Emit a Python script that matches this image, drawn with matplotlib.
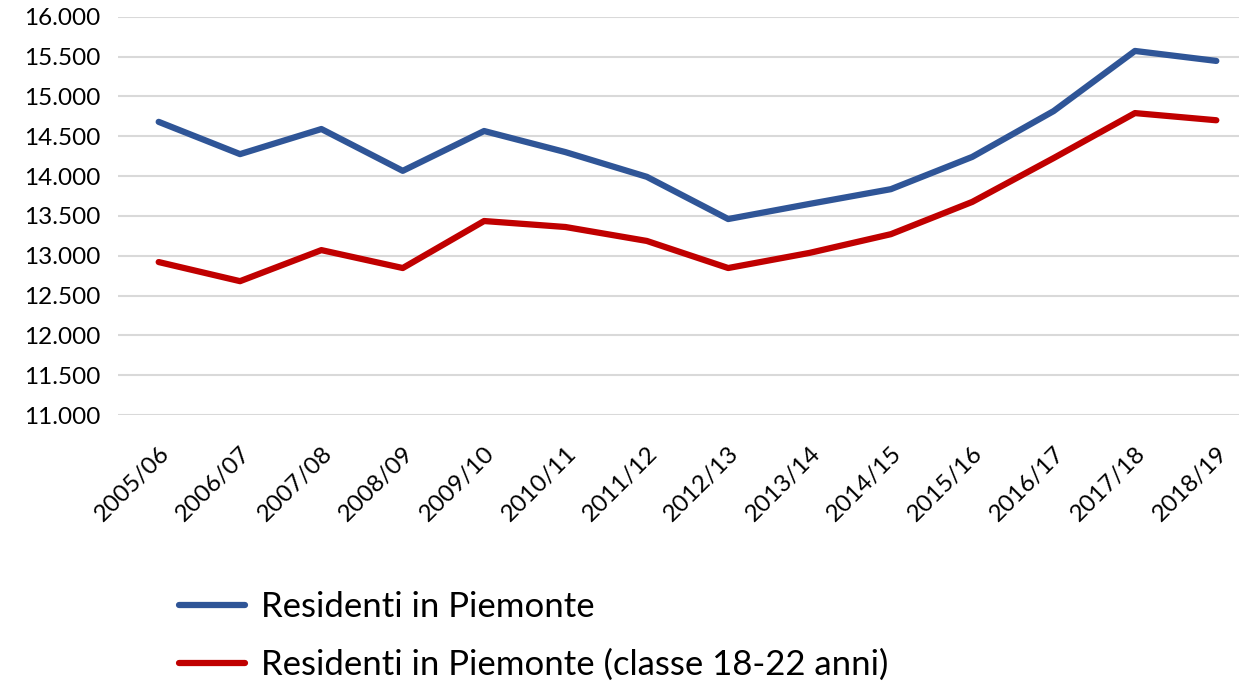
import matplotlib.pyplot as plt
from matplotlib.ticker import FuncFormatter

# anni accademici e residenti
anni = ["2005/06", "2006/07", "2007/08", "2008/09", "2009/10", "2010/11", "2011/12",
        "2012/13", "2013/14", "2014/15", "2015/16", "2016/17", "2017/18", "2018/19"]
residenti = [14680, 14275, 14590, 14065, 14565, 14300, 13990,
             13460, 13650, 13835, 14240, 14815, 15570, 15445]
residenti_18_22 = [12920, 12680, 13070, 12845, 13435, 13360, 13185,
                   12845, 13035, 13270, 13675, 14225, 14790, 14700]

plt.rcParams['font.family'] = ['Lato', 'DejaVu Sans']

fig = plt.figure(figsize=(12.39, 6.81), dpi=100)
# the plot area runs past the right edge like in the original
ax = fig.add_axes([118/1239, 1-415/681, (1257-118)/1239, (415-16.7)/681])

x = range(len(anni))
ax.plot(x, residenti, color="#2F5597", lw=4.5, solid_capstyle="round",
        solid_joinstyle="round", label="Residenti in Piemonte")
ax.plot(x, residenti_18_22, color="#C00000", lw=4.5, solid_capstyle="round",
        solid_joinstyle="round", label="Residenti in Piemonte (classe 18-22 anni)")

ax.set_xlim(-0.5, len(anni) - 0.5)
ax.set_ylim(11000, 16000)
ax.set_yticks(range(11000, 16001, 500))
ax.yaxis.set_major_formatter(FuncFormatter(lambda v, p: "{:,.0f}".format(v).replace(",", ".")))
ax.set_xticks(list(x))
ax.set_xticklabels(anni, rotation=45, ha="right", rotation_mode="anchor")

ax.grid(axis="y", color="#D9D9D9", lw=1.5)
ax.set_axisbelow(True)
for s in ax.spines.values():
    s.set_visible(False)
ax.tick_params(axis="both", length=0, labelsize=17.5, colors="black")
ax.tick_params(axis="y", pad=13)
ax.tick_params(axis="x", pad=20)

fig.legend(loc="center left", bbox_to_anchor=(179/1239, 1-636/681), frameon=False,
           fontsize=25, handlelength=1.9, handletextpad=0.45, labelspacing=0.75,
           borderpad=0, borderaxespad=0)

fig.savefig("out.png", dpi=100)
